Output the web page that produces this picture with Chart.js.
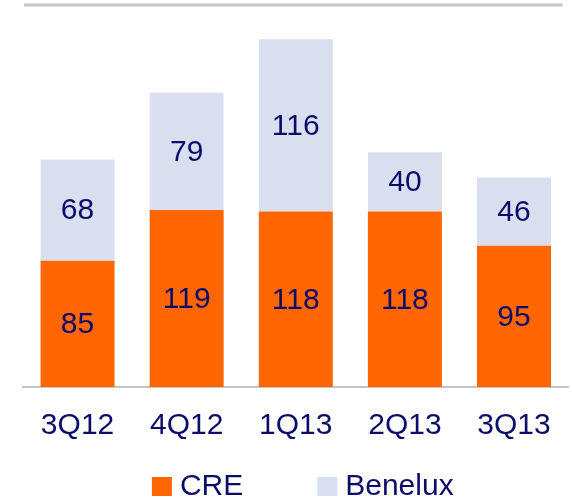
<!DOCTYPE html>
<html>
<head>
<meta charset="utf-8">
<script src="https://cdn.jsdelivr.net/npm/chart.js@4.4.1/dist/chart.umd.min.js"></script>
<style>
  html, body { margin: 0; padding: 0; background: #ffffff; }
  #wrap { width: 572px; height: 500px; position: relative; }
</style>
</head>
<body>
<div id="wrap"><canvas id="c" width="572" height="500"></canvas></div>
<script>
const categories = ["3Q12", "4Q12", "1Q13", "2Q13", "3Q13"];
const creValues = [85, 119, 118, 118, 95];
const beneluxValues = [68, 79, 116, 40, 46];
const seriesNames = ["CRE", "Benelux"];

const TEXT_COLOR = "#0C0C6A";
const FONT_FAMILY = "'Liberation Sans', Arial, sans-serif";

const valueLabels = {
  id: "valueLabels",
  afterDatasetsDraw(chart) {
    const ctx = chart.ctx;
    ctx.save();
    ctx.font = "30px " + FONT_FAMILY;
    ctx.fillStyle = TEXT_COLOR;
    ctx.textAlign = "center";
    ctx.textBaseline = "middle";
    chart.data.datasets.forEach((ds, di) => {
      const meta = chart.getDatasetMeta(di);
      meta.data.forEach((bar, i) => {
        const v = ds.data[i];
        const yc = (bar.y + bar.base) / 2;
        ctx.fillText(String(v), bar.x, yc + 1);
      });
    });
    ctx.restore();
  }
};

const frameLines = {
  id: "frameLines",
  beforeDatasetsDraw(chart) {
    const ctx = chart.ctx;
    const a = chart.chartArea;
    ctx.save();
    ctx.strokeStyle = "#C4C4C4";
    ctx.lineWidth = 3;
    ctx.beginPath();
    ctx.moveTo(a.left + 1, a.top);
    ctx.lineTo(a.right - 6, a.top);
    ctx.stroke();
    ctx.restore();
  }
};

const customLegend = {
  id: "customLegend",
  afterDraw(chart) {
    const ctx = chart.ctx;
    const a = chart.chartArea;
    ctx.save();
    ctx.font = "30px " + FONT_FAMILY;
    ctx.textBaseline = "middle";
    ctx.textAlign = "left";
    const box = 20, gapText = 8, gapItem = 74;
    const ds = chart.data.datasets;
    let total = 0;
    ds.forEach((d, i) => {
      total += box + gapText + ctx.measureText(d.label).width;
      if (i < ds.length - 1) total += gapItem;
    });
    let x = (a.left + a.right) / 2 - total / 2 + 7;
    const yc = 487;
    ds.forEach((d) => {
      ctx.fillStyle = d.backgroundColor;
      ctx.fillRect(x, yc - box / 2, box, box - 1);
      x += box + gapText;
      ctx.fillStyle = TEXT_COLOR;
      ctx.fillText(d.label, x, yc);
      x += ctx.measureText(d.label).width + gapItem;
    });
    ctx.restore();
  }
};

new Chart(document.getElementById("c"), {
  type: "bar",
  data: {
    labels: categories,
    datasets: [
      { label: seriesNames[0], data: creValues, backgroundColor: "#FF6600", borderWidth: 0 },
      { label: seriesNames[1], data: beneluxValues, backgroundColor: "#D9DFEF", borderWidth: 0 }
    ]
  },
  options: {
    responsive: false,
    animation: false,
    events: [],
    layout: { padding: { left: 23, right: 3, top: 5, bottom: 35 } },
    plugins: { legend: { display: false }, tooltip: { enabled: false } },
    datasets: { bar: { categoryPercentage: 1, barPercentage: 0.678 } },
    scales: {
      x: {
        stacked: true,
        grid: { display: false, drawTicks: false },
        border: { display: true, color: "#C4C4C4", width: 2 },
        ticks: { color: TEXT_COLOR, font: { family: FONT_FAMILY, size: 30 }, padding: 21, maxRotation: 0 }
      },
      y: {
        stacked: true,
        display: false,
        min: 0,
        max: 257
      }
    }
  },
  plugins: [frameLines, valueLabels, customLegend]
});
</script>
</body>
</html>
